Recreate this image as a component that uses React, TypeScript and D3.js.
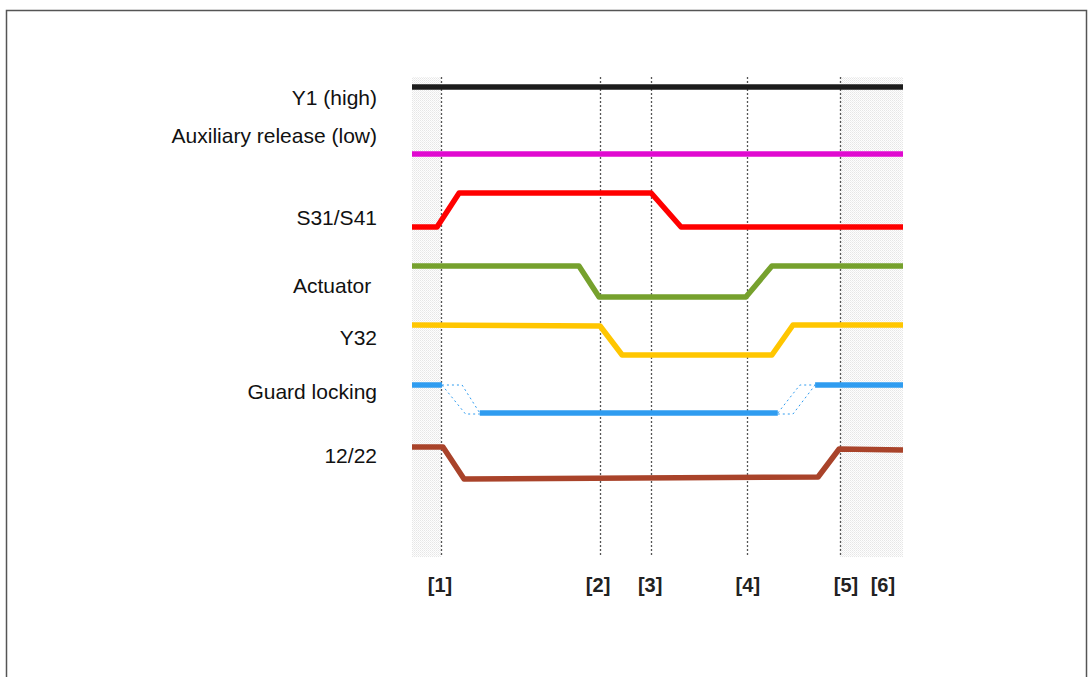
import React, { useEffect, useRef } from 'react';
import * as d3 from 'd3';

// time axis runs 0..100 (arbitrary units), levels in row units (0..48)
const markerTimes = [5.9, 38.3, 48.7, 68.2, 87.2];
const markerLabels = ['[1]', '[2]', '[3]', '[4]', '[5]', '[6]'];
const markerLabelTimes = [5.7, 37.9, 48.5, 68.4, 88.4, 95.9];
const shadedSpans = [[0, 5.9], [87.2, 100]];

const signalNames = ['Y1 (high)', 'Auxiliary release (low)', 'S31/S41', 'Actuator ', 'Y32', 'Guard locking', '12/22'];
const labelLevels = [2.2, 6.0, 14.2, 21.0, 26.2, 31.6, 38.0];
const signalColors = ['#1c1c1c', '#e00ad0', '#ff0000', '#76a12d', '#ffc600', '#2f9cf0', '#a9432a'];

const y1Wave: [number, number][] = [[0, 1.0], [100, 1.0]];
const auxWave: [number, number][] = [[0, 7.7], [100, 7.7]];
const s31Wave: [number, number][] = [[0, 15.0], [5.1, 15.0], [9.6, 11.6], [48.7, 11.6], [54.8, 15.0], [100, 15.0]];
const actuatorWave: [number, number][] = [[0, 18.9], [34.0, 18.9], [38.1, 22.0], [68.0, 22.0], [73.3, 18.9], [100, 18.9]];
const y32Wave: [number, number][] = [[0, 24.8], [38.3, 24.9], [42.8, 27.8], [73.3, 27.8], [77.6, 24.8], [100, 24.8]];
const guardSolidA: [number, number][] = [[0, 30.8], [6.1, 30.8]];
const guardSolidB: [number, number][] = [[13.8, 33.6], [74.5, 33.6]];
const guardSolidC: [number, number][] = [[82.1, 30.8], [100, 30.8]];
const guardDashes: [number, number][][] = [
  [[6.1, 30.8], [10.2, 30.8], [13.8, 33.6]],
  [[6.1, 30.8], [10.9, 33.7], [13.8, 33.7]],
  [[74.5, 33.7], [77.6, 33.7], [82.1, 30.8]],
  [[74.5, 33.6], [79.0, 30.8], [82.1, 30.8]],
];
const wave1222: [number, number][] = [[0, 37.0], [6.3, 37.0], [10.6, 40.2], [82.7, 40.0], [87.0, 37.2], [100, 37.3]];

const solidWaves = [y1Wave, auxWave, s31Wave, actuatorWave, y32Wave, null, wave1222];

export default function App() {
  const ref = useRef<SVGSVGElement>(null);

  useEffect(() => {
    const svg = d3.select(ref.current);
    svg.selectAll('*').remove();

    const x = d3.scaleLinear().domain([0, 100]).range([412, 903]);
    const y = d3.scaleLinear().domain([0, 48]).range([77, 557]);
    const line = d3.line<[number, number]>().x(d => x(d[0])).y(d => y(d[1]));

    // frame
    svg.append('rect')
      .attr('x', 6.5).attr('y', 10.5)
      .attr('width', 1080).attr('height', 720)
      .attr('fill', 'white')
      .attr('stroke', '#555').attr('stroke-width', 1.5);

    // dotted shading
    const pat = svg.append('defs').append('pattern')
      .attr('id', 'dots').attr('width', 2).attr('height', 2)
      .attr('patternUnits', 'userSpaceOnUse');
    pat.append('rect').attr('width', 2).attr('height', 2).attr('fill', '#fefefe');
    pat.append('rect').attr('width', 1).attr('height', 1).attr('fill', '#e6e6e6');
    pat.append('rect').attr('x', 1).attr('y', 1).attr('width', 1).attr('height', 1).attr('fill', '#efefef');

    svg.selectAll('rect.shade')
      .data(shadedSpans)
      .enter().append('rect')
      .attr('class', 'shade')
      .attr('x', d => x(d[0]))
      .attr('y', y(0))
      .attr('width', d => x(d[1]) - x(d[0]))
      .attr('height', y(48) - y(0))
      .attr('fill', 'url(#dots)');

    // marker lines
    svg.selectAll('line.marker')
      .data(markerTimes)
      .enter().append('line')
      .attr('class', 'marker')
      .attr('x1', d => Math.round(x(d)) + 0.5).attr('x2', d => Math.round(x(d)) + 0.5)
      .attr('y1', y(0)).attr('y2', y(48))
      .attr('stroke', '#555').attr('stroke-width', 1.3)
      .attr('stroke-dasharray', '2,2');

    // waveforms
    solidWaves.forEach((w, i) => {
      if (!w) return;
      svg.append('path').attr('d', line(w))
        .attr('fill', 'none').attr('stroke', signalColors[i])
        .attr('stroke-width', 5.5).attr('stroke-linejoin', 'round');
    });
    [guardSolidA, guardSolidB, guardSolidC].forEach(w => {
      svg.append('path').attr('d', line(w))
        .attr('fill', 'none').attr('stroke', signalColors[5])
        .attr('stroke-width', 5.5);
    });
    guardDashes.forEach(w => {
      svg.append('path').attr('d', line(w))
        .attr('fill', 'none').attr('stroke', signalColors[5])
        .attr('stroke-width', 1).attr('stroke-dasharray', '2,3');
    });

    // signal names
    svg.selectAll('text.name')
      .data(signalNames)
      .enter().append('text')
      .attr('class', 'name')
      .attr('x', 377)
      .attr('y', (_, i) => y(labelLevels[i]))
      .attr('text-anchor', 'end')
      .attr('dominant-baseline', 'middle')
      .style('white-space', 'pre')
      .style('font-family', 'Liberation Sans, Arial, sans-serif')
      .style('font-size', '21px')
      .style('fill', '#111')
      .text(d => d);

    // marker labels
    svg.selectAll('text.mlabel')
      .data(markerLabels)
      .enter().append('text')
      .attr('class', 'mlabel')
      .attr('x', (_, i) => x(markerLabelTimes[i]))
      .attr('y', 587)
      .attr('text-anchor', 'middle')
      .attr('dominant-baseline', 'middle')
      .style('font-family', 'Liberation Sans, Arial, sans-serif')
      .style('font-size', '20px')
      .style('font-weight', 'bold')
      .style('fill', '#222')
      .text(d => d);
  }, []);

  return (
    <svg ref={ref} width={1088} height={677}
      style={{ position: 'absolute', left: 0, top: 0, background: 'white' }} />
  );
}
